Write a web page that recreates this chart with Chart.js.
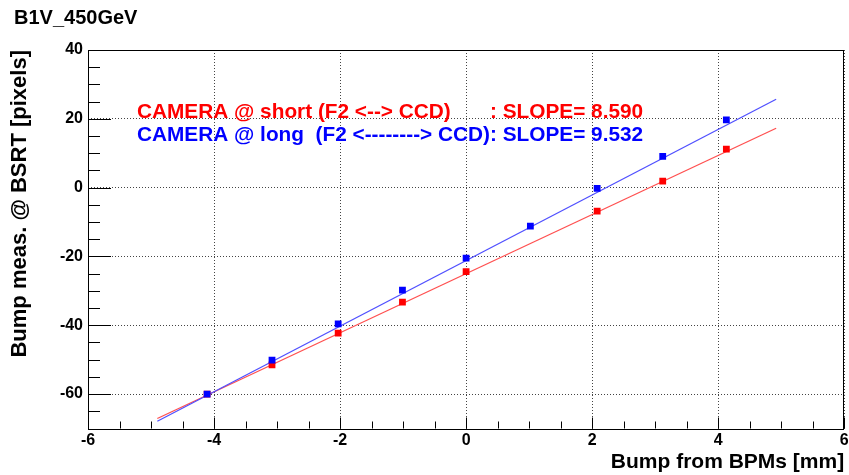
<!DOCTYPE html>
<html>
<head>
<meta charset="utf-8">
<script src="https://cdn.jsdelivr.net/npm/chart.js@4"></script>
<style>
  html, body { margin: 0; padding: 0; background: #fff; }
  #wrap { width: 849px; height: 475px; }
</style>
</head>
<body>
<div id="wrap"><canvas id="c" width="849" height="475"></canvas></div>
<script>
// Beam-size monitor calibration: bump amplitude from BPMs vs. beam position seen on the camera
const bumpShort = [-4.11, -3.08, -2.03, -1.01, 0.00, 2.08, 3.12, 4.13];
const measShort = [-60.0, -51.5, -42.3, -33.3, -24.4, -6.8, 1.9, 11.2];
const bumpLong  = [-4.11, -3.08, -2.03, -1.01, 0.00, 1.02, 2.08, 3.12, 4.13];
const measLong  = [-60.0, -50.1, -39.6, -29.8, -20.5, -11.2, -0.2, 9.1, 19.7];

// Linear fit results (slope in pixels/mm, offset in pixels) and fit range [mm]
const slopeShort = 8.590, offsetShort = -25.0;
const slopeLong  = 9.532, offsetLong  = -21.2;
const fitRange = [-4.9, 4.92];

const xTicks = [-6, -4, -2, 0, 2, 4, 6];
const yTicks = [-60, -40, -20, 0, 20, 40];

const FONT = '"Liberation Sans", Arial, Helvetica, sans-serif';
const RED = '#ff0000', BLUE = '#0000ff';

const toPoints = (xs, ys) => xs.map((x, i) => ({ x: x, y: ys[i] }));
const fitLine = (slope, offset) => fitRange.map(x => ({ x: x, y: slope * x + offset }));

// Frame plus ROOT-style primary/secondary tick marks
const framePlugin = {
  id: 'frame',
  afterDraw(chart) {
    const { ctx, chartArea: a, scales } = chart;
    const xs = scales.x, ys = scales.y;
    ctx.save();
    ctx.strokeStyle = '#000';
    ctx.lineWidth = 1;
    ctx.beginPath();
    for (let v = -6; v <= 6.001; v += 0.5) {
      const px = Math.round(xs.getPixelForValue(v)) + 0.5;
      const len = Math.abs(v % 2) < 1e-6 ? 11 : 7;
      ctx.moveTo(px, a.bottom);
      ctx.lineTo(px, a.bottom - len);
    }
    for (let v = -70; v <= 40.001; v += 5) {
      const py = Math.round(ys.getPixelForValue(v)) + 0.5;
      const len = Math.abs(v % 20) < 1e-6 ? 23 : 12;
      ctx.moveTo(a.left, py);
      ctx.lineTo(a.left + len, py);
    }
    ctx.stroke();
    ctx.strokeRect(Math.round(a.left) + 0.5, Math.round(a.top) + 0.5,
                   Math.round(a.right - a.left) - 1, Math.round(a.bottom - a.top));
    ctx.restore();
  }
};

// Text box with the two fit slopes
const slopeTextPlugin = {
  id: 'slopeText',
  afterDraw(chart) {
    const ctx = chart.ctx;
    ctx.save();
    ctx.font = 'bold 20.8px ' + FONT;
    ctx.textBaseline = 'middle';
    ctx.textAlign = 'left';
    const x0 = 137;
    const longHead = 'CAMERA @ long  (F2 <--------> CCD)';
    const colonX = x0 + ctx.measureText(longHead).width;
    ctx.fillStyle = RED;
    ctx.fillText('CAMERA @ short (F2 <--> CCD)', x0, 112.5);
    ctx.fillText(': SLOPE= ' + slopeShort.toFixed(3), colonX, 112.5);
    ctx.fillStyle = BLUE;
    ctx.fillText(longHead + ': SLOPE= ' + slopeLong.toFixed(3), x0, 135);
    ctx.restore();
  }
};

new Chart(document.getElementById('c'), {
  type: 'scatter',
  data: {
    datasets: [
      {
        label: 'long',
        data: toPoints(bumpLong, measLong),
        backgroundColor: BLUE, borderColor: BLUE,
        pointStyle: 'rect', pointRadius: 4.8, pointBorderWidth: 0,
        showLine: false, order: 0
      },
      {
        label: 'short',
        data: toPoints(bumpShort, measShort),
        backgroundColor: RED, borderColor: RED,
        pointStyle: 'rect', pointRadius: 4.8, pointBorderWidth: 0,
        showLine: false, order: 1
      },
      {
        label: 'fit long',
        data: fitLine(slopeLong, offsetLong),
        borderColor: 'rgb(80,80,255)', borderWidth: 1.3,
        pointRadius: 0, showLine: true, order: 2
      },
      {
        label: 'fit short',
        data: fitLine(slopeShort, offsetShort),
        borderColor: 'rgb(255,80,80)', borderWidth: 1.3,
        pointRadius: 0, showLine: true, order: 3
      }
    ]
  },
  options: {
    responsive: false,
    devicePixelRatio: 1,
    animation: false,
    layout: { padding: { left: 14, right: 1.5, top: 0, bottom: 0 } },
    plugins: {
      legend: { display: false },
      tooltip: { enabled: false },
      title: {
        display: true,
        text: 'B1V_450GeV',
        align: 'start',
        color: '#000',
        font: { family: FONT, size: 20, weight: 'bold', lineHeight: 1.2 },
        padding: { top: 6.3, bottom: 19.7 }
      }
    },
    scales: {
      x: {
        type: 'linear',
        min: -6, max: 6,
        afterBuildTicks: s => { s.ticks = xTicks.map(v => ({ value: v })); },
        afterFit: s => { s.height = 46.5; s.paddingLeft = 0; s.paddingRight = 0; },
        ticks: {
          color: '#000', padding: 2, maxRotation: 0, autoSkip: false,
          font: { family: FONT, size: 16, weight: 'bold', lineHeight: 1.2 },
          callback: v => String(v)
        },
        grid: { color: '#444', lineWidth: 1, drawTicks: false },
        border: { display: false, dash: [1, 2] },
        title: {
          display: true, text: 'Bump from BPMs [mm]', align: 'end', color: '#000',
          font: { family: FONT, size: 21, weight: 'bold', lineHeight: 1.2 },
          padding: { top: 0, bottom: 0.5 }
        }
      },
      y: {
        type: 'linear',
        min: -70, max: 40,
        afterBuildTicks: s => { s.ticks = yTicks.map(v => ({ value: v })); },
        afterFit: s => { s.width = 74; s.paddingTop = 0; s.paddingBottom = 0; },
        ticks: {
          color: '#000', padding: 5,
          font: { family: FONT, size: 16, weight: 'bold', lineHeight: 1.2 },
          callback: v => String(v)
        },
        grid: { color: '#444', lineWidth: 1, drawTicks: false },
        border: { display: false, dash: [1, 2] },
        title: {
          display: true, text: 'Bump meas. @ BSRT [pixels]', align: 'end', color: '#000',
          font: { family: FONT, size: 22, weight: 'bold', lineHeight: '12px' },
          padding: { top: 0, bottom: 0 }
        }
      }
    }
  },
  plugins: [framePlugin, slopeTextPlugin]
});
</script>
</body>
</html>
